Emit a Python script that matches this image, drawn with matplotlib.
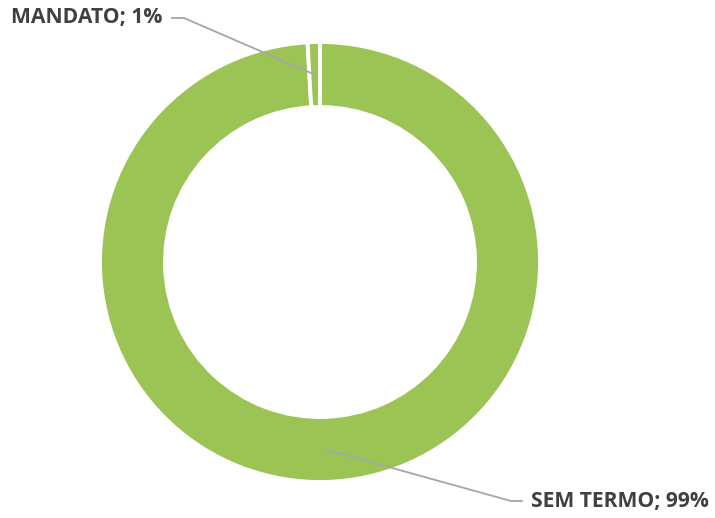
import matplotlib.pyplot as plt
import numpy as np

labels = ['SEM TERMO', 'MANDATO']
values = [99.1, 0.9]
pct_text = ['99%', '1%']

green = '#9BC455'
grey = '#A6A6A6'
txt = '#404040'

fig = plt.figure(figsize=(7.15, 5.18), dpi=100)
ax = fig.add_axes([0, 0, 1, 1])

cx, cy, R, w = 320, 256, 220, 65
wedges, _ = ax.pie(values, center=(cx, cy), radius=R, startangle=90,
                   counterclock=False, colors=[green, green],
                   wedgeprops=dict(width=w, edgecolor='white', linewidth=2.8))

ax.set_xlim(0, 715)
ax.set_ylim(0, 518)
ax.set_aspect('equal')
ax.axis('off')

# leader lines: from middle of ring to label
r_mid = R - w / 2
label_pos = {'MANDATO': ((184, 500), (172, 500), (162, 500), 'right'),
             'SEM TERMO': ((511, 17), (522, 17), (531, 17), 'left')}
for wd, lab, p in zip(wedges, labels, pct_text):
    th = np.deg2rad((wd.theta1 + wd.theta2) / 2)
    ax0 = cx + r_mid * np.cos(th)
    ay0 = cy + r_mid * np.sin(th)
    (bx, by), (ex, ey), (tx, ty), ha = label_pos[lab]
    ax.plot([ax0, bx, ex], [ay0, by, ey], color=grey, lw=1.3)
    ax.text(tx, ty, f'{lab}; {p}', ha=ha, va='center', fontsize=15.2,
            fontweight='bold', color=txt, family='Open Sans')

fig.savefig('out.png', dpi=100)
